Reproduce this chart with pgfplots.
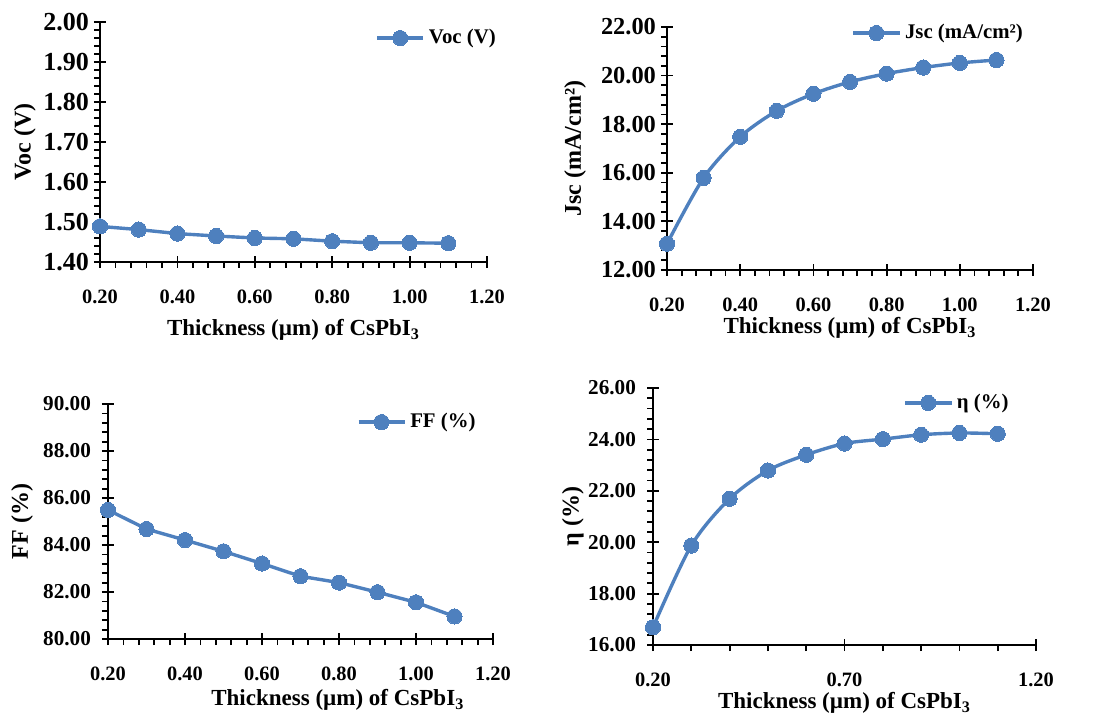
\documentclass[border=0pt]{standalone}
\usepackage{pgfplots}
\pgfplotsset{compat=1.18}
\usepackage{fontspec}
\setmainfont{Liberation Serif}
\definecolor{lineblue}{RGB}{78,128,190}
\pgfplotsset{
  panel/.style={
    scale only axis, anchor=south west, clip=false,
    axis x line=bottom, axis y line=left,
    axis line style={-, line width=1pt, black},
    tick align=outside,
    major tick length=6pt, minor tick length=3pt,
    every tick/.style={black, line width=0.9pt},
    every major x tick/.append style={yshift=3pt},
    every major y tick/.append style={xshift=3pt},
    minor x tick num=4, minor y tick num=4,
    xmin=0.2, xmax=1.2,
    xtick={0.2,0.4,0.6,0.8,1.0,1.2},
    /pgf/number format/.cd, fixed, fixed zerofill, precision=2, assume math mode=true, /pgfplots/.cd,
    xticklabel style={font=\fontsize{10.2}{12}\selectfont\bfseries, yshift=-4.5pt},
    xlabel={Thickness (µm) of CsPbI\textsubscript{3}},
    xlabel style={font=\fontsize{11.5}{13}\selectfont\bfseries, anchor=center},
    ylabel style={font=\fontsize{12}{14}\selectfont\bfseries, anchor=center},
    legend style={draw=none, fill=none, inner sep=0pt, anchor=east, font=\fontsize{10.4}{12}\selectfont\bfseries},
    legend cell align=left,
    legend image code/.code={\draw[mark repeat=2,mark phase=2] plot coordinates {(0pt,0pt)(11.5pt,0pt)(23pt,0pt)};},
  },
  ser/.style={color=lineblue, line width=1.7pt, mark=*, mark size=3.8pt, mark options={fill=lineblue, draw=lineblue, line width=0pt}},
}
\begin{document}
\begin{tikzpicture}[x=1pt,y=1pt]
\useasboundingbox (0,0) rectangle (547.5,358.5);
% Voc
\begin{axis}[panel, at={(50pt,227.5pt)}, width=193.5pt, height=120pt,
  ymin=1.4, ymax=2.0, ytick={1.4,1.5,1.6,1.7,1.8,1.9,2.0},
  yticklabel style={font=\fontsize{13}{15}\selectfont\bfseries, xshift=4pt},
  ylabel={Voc (V)},
  xlabel style={at={(axis description cs:0.5,-0.283)}},
  ylabel style={at={(axis description cs:-0.194,0.5)}},
  legend style={at={(axis description cs:1.034,0.933)}}]
\addplot[ser] coordinates {(0.2,1.489)(0.3,1.481)(0.4,1.471)(0.5,1.465)(0.6,1.460)(0.7,1.458)(0.8,1.452)(0.9,1.448)(1.0,1.448)(1.1,1.447)};
\addlegendentry{Voc (V)}
\end{axis}
% Jsc
\begin{axis}[panel, at={(333.5pt,223.5pt)}, width=183pt, height=121.5pt,
  ymin=12, ymax=22, ytick={12,14,16,18,20,22},
  yticklabel style={font=\fontsize{12.2}{14}\selectfont\bfseries, xshift=4pt},
  ylabel={Jsc (mA/cm²)},
  xlabel style={at={(axis description cs:0.5,-0.239)}},
  ylabel style={at={(axis description cs:-0.251,0.5)}},
  legend style={at={(axis description cs:0.984,0.975)}}]
\addplot[ser, smooth] coordinates {(0.2,13.08)(0.3,15.79)(0.4,17.48)(0.5,18.55)(0.6,19.25)(0.7,19.74)(0.8,20.08)(0.9,20.33)(1.0,20.52)(1.1,20.64)};
\addlegendentry{Jsc (mA/cm²)}
\end{axis}
% FF
\begin{axis}[panel, at={(54pt,39pt)}, width=192.5pt, height=117.5pt,
  ymin=80, ymax=90, ytick={80,82,84,86,88,90},
  yticklabel style={font=\fontsize{10.6}{12}\selectfont\bfseries, xshift=1pt},
  ylabel={FF (\%)},
  xlabel style={at={(axis description cs:0.597,-0.26)}},
  ylabel style={at={(axis description cs:-0.223,0.5)}},
  legend style={at={(axis description cs:0.966,0.923)}}]
\addplot[ser] coordinates {(0.2,85.49)(0.3,84.68)(0.4,84.21)(0.5,83.73)(0.6,83.21)(0.7,82.67)(0.8,82.40)(0.9,81.99)(1.0,81.56)(1.1,80.96)};
\addlegendentry{FF (\%)}
\end{axis}
% eta
\begin{axis}[panel, at={(326.5pt,36pt)}, width=191.5pt, height=128.5pt,
  ymin=16, ymax=26, ytick={16,18,20,22,24,26},
  xtick={0.2,0.7,1.2},
  yticklabel style={font=\fontsize{10.6}{12}\selectfont\bfseries, xshift=1pt},
  ylabel={η (\%)},
  xlabel style={at={(axis description cs:0.5,-0.226)}},
  ylabel style={at={(axis description cs:-0.209,0.5)}},
  legend style={at={(axis description cs:0.940,0.942)}}]
\addplot[ser, smooth] coordinates {(0.2,16.69)(0.3,19.87)(0.4,21.69)(0.5,22.79)(0.6,23.40)(0.7,23.84)(0.8,24.01)(0.9,24.18)(1.0,24.25)(1.1,24.22)};
\addlegendentry{η (\%)}
\end{axis}
\end{tikzpicture}
\end{document}
